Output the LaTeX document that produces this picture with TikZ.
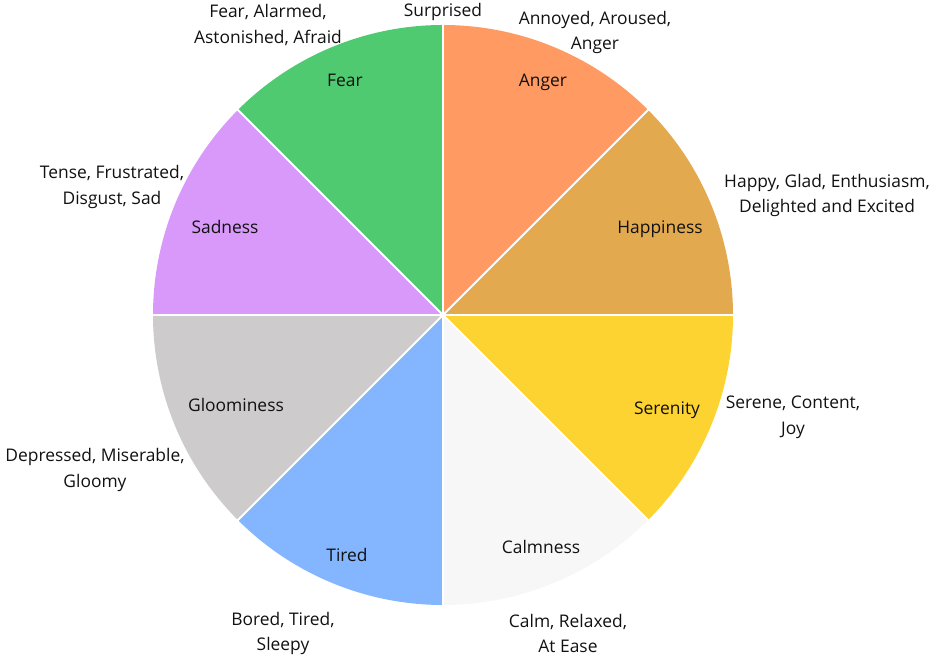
\documentclass[tikz,border=0pt]{standalone}
\usepackage{fontspec}
\setmainfont{Open Sans}
\definecolor{cfear}{HTML}{4FCA71}
\definecolor{canger}{HTML}{FF9A62}
\definecolor{chappy}{HTML}{E3A94F}
\definecolor{cseren}{HTML}{FDD332}
\definecolor{ccalm}{HTML}{F7F7F7}
\definecolor{ctired}{HTML}{84B5FF}
\definecolor{cgloom}{HTML}{CDCBCB}
\definecolor{csad}{HTML}{D899FB}
\definecolor{ctext}{HTML}{111111}
\begin{document}
\begin{tikzpicture}[x=1pt,y=1pt,
  lbl/.style={font=\fontsize{17.4}{25.5}\selectfont, text=ctext, align=center, inner sep=0pt},
  sep/.style={draw=white, line width=2pt}]
\useasboundingbox (0,0) rectangle (935,660);
\coordinate (c) at (443,345);
\def\R{290}
\foreach \a/\col in {45/canger,0/chappy,-45/cseren,-90/ccalm,-135/ctired,180/cgloom,135/csad,90/cfear}{
  \fill[\col] (c) -- ++(\a:\R) arc[start angle=\a, delta angle=45, radius=\R] -- cycle;
}
\foreach \a in {0,45,...,315}{
  \draw[sep] (c) -- ++(\a:\R+1);
}
% inner labels
\node[lbl] (fear) at (345,580) {Fear};
\node[lbl] (anger) at (543,578) {Anger};
\node[lbl] (happy) at (660,431) {Happiness};
\node[lbl] (seren) at (667,250) {Serenity};
\node[lbl] (calm) at (541,113) {Calmness};
\node[lbl] (tired) at (347,105) {Tired};
\node[lbl] (gloom) at (236,255) {Gloominess};
\node[lbl] (sad) at (225,433) {Sadness};
% outer labels
\node[lbl] (o1) at (443,648) {Surprised};
\node[lbl] (o2) at (268,635) {Fear, Alarmed,\\Astonished, Afraid};
\node[lbl] (o3) at (595,627.5) {Annoyed, Aroused,\\Anger};
\node[lbl] (o4) at (827,464.5) {Happy, Glad, Enthusiasm,\\Delighted and Excited};
\node[lbl] (o5) at (793,242.5) {Serene, Content,\\Joy};
\node[lbl] (o6) at (568,26.5) {Calm, Relaxed,\\At Ease};
\node[lbl] (o7) at (283,26.5) {Bored, Tired,\\Sleepy};
\node[lbl] (o8) at (95,190) {Depressed, Miserable,\\Gloomy};
\node[lbl] (o9) at (112,473) {Tense, Frustrated,\\Disgust, Sad};
\end{tikzpicture}
\end{document}
